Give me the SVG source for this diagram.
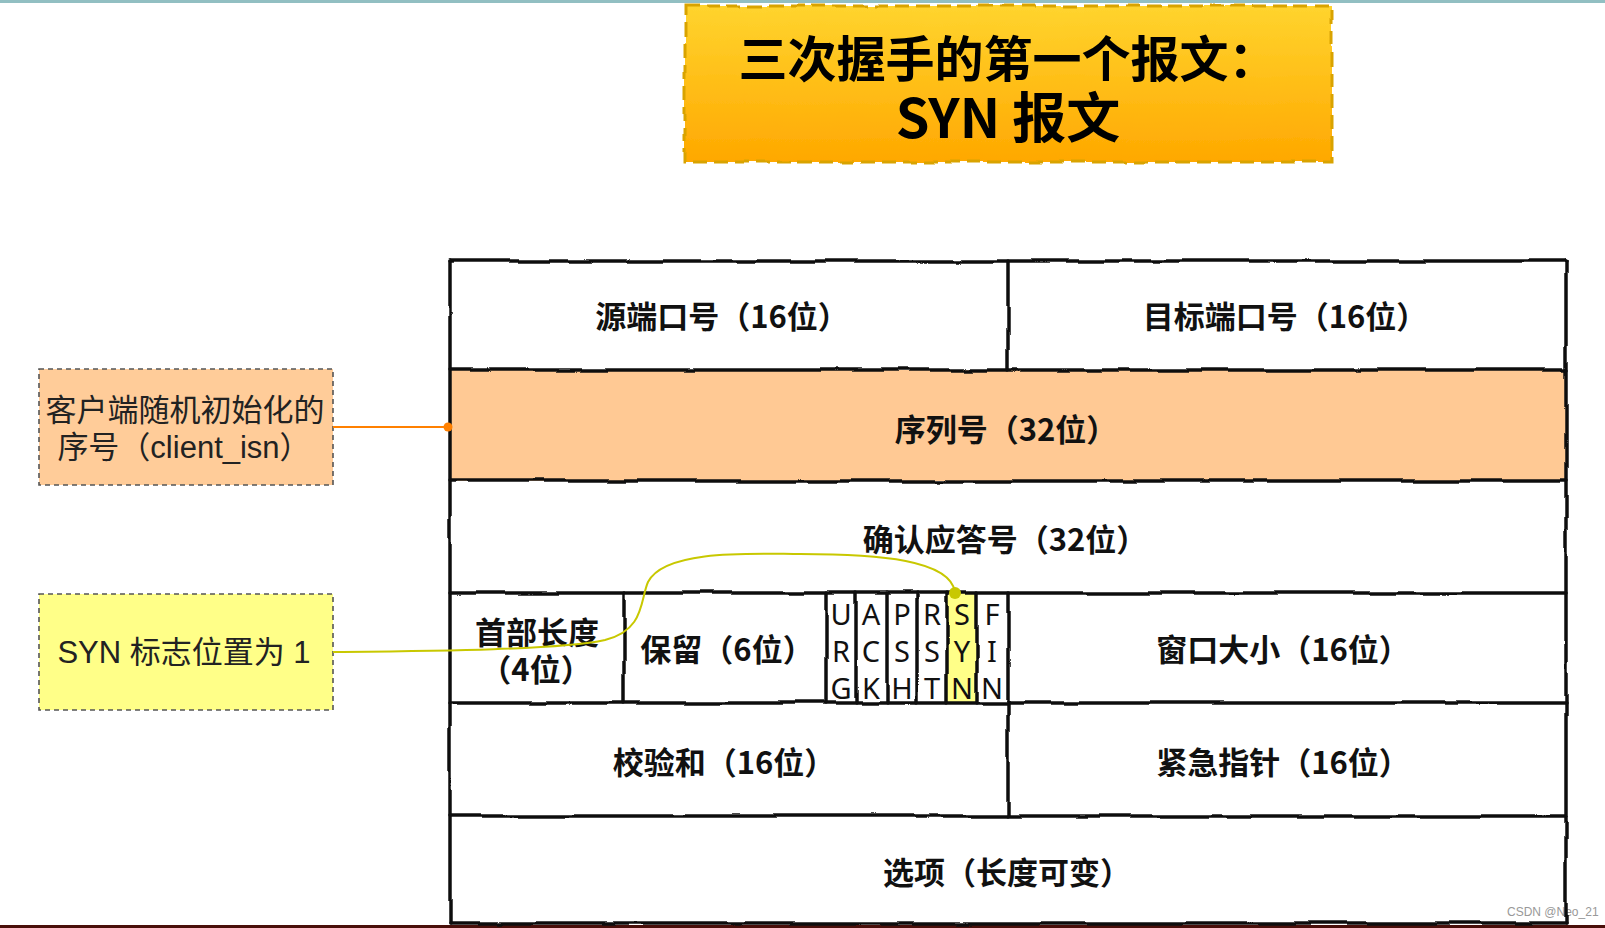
<svg xmlns="http://www.w3.org/2000/svg" width="1605" height="928" viewBox="0 0 1605 928">
<defs>
<linearGradient id="gTitle" x1="0" y1="0" x2="0" y2="1">
<stop offset="0" stop-color="#ffd42e"/>
<stop offset="1" stop-color="#ffa800"/>
</linearGradient>
<filter id="rough" x="-2%" y="-2%" width="104%" height="104%">
<feTurbulence type="fractalNoise" baseFrequency="0.018" numOctaves="2" seed="3" result="n"/>
<feDisplacementMap in="SourceGraphic" in2="n" scale="5" xChannelSelector="R" yChannelSelector="G"/>
</filter>
<style>
.cell{font-family:"Noto Sans CJK SC","Noto Sans",sans-serif;font-weight:bold;font-size:31px;fill:#111;text-anchor:middle}
.flag{font-family:"Noto Sans","DejaVu Sans",sans-serif;font-size:29px;fill:#111;text-anchor:middle}
.note{font-family:"Liberation Sans","Noto Sans CJK SC",sans-serif;font-size:31px;fill:#222;text-anchor:middle}
.title{font-family:"Noto Sans CJK SC",sans-serif;font-weight:bold;font-size:49px;fill:#000;text-anchor:middle}
.grid{stroke:#111;stroke-width:3.5;fill:none;stroke-linecap:round}
.dash{stroke:#555;stroke-width:1.6;stroke-dasharray:5 4}
</style>
</defs>
<rect x="0" y="0" width="1605" height="928" fill="#ffffff"/>
<rect x="0" y="0" width="1605" height="3" fill="#92bfc2"/>
<rect x="0" y="925" width="1605" height="3" fill="#4a0f0a"/>
<text x="1507" y="916" font-family="Liberation Sans,sans-serif" font-size="12" fill="#999">CSDN @Neo_21</text>

<g id="title">
<rect x="685" y="6" width="647" height="156" fill="url(#gTitle)" stroke="#d9a300" stroke-width="3" stroke-dasharray="14 7" filter="url(#rough)"/>
<text class="title" x="1008" y="77">三次握手的第一个报文：</text>
<text class="title" x="1008" y="138" style="font-size:54px">SYN 报文</text>
</g>

<g id="table">
<g id="fills">
<rect x="450" y="370" width="1116" height="111" fill="#ffc994"/>
<rect x="947" y="593" width="30" height="110" fill="#ffff88"/>
</g>
<g id="grid" class="grid" filter="url(#rough)">
<path d="M450,261 H1566 M450,370 H1566 M450,481 H1566 M450,593 H1566 M450,703 H1566 M450,816 H1566 M450,923 H1566"/>
<path d="M450,261 V923 M1566,261 V923"/>
<path d="M1008,261 V370 M1008,593 V816"/>
<path d="M624,593 V703 M826,593 V703 M856,593 V703 M887,593 V703 M917,593 V703 M947,593 V703 M977,593 V703"/>
</g>
<g id="f-src-port"><text class="cell" x="722" y="328">源端口号（16位）</text></g>
<g id="f-dst-port"><text class="cell" x="1285" y="328">目标端口号（16位）</text></g>
<g id="f-seq"><text class="cell" x="1006" y="441">序列号（32位）</text></g>
<g id="f-ack"><text class="cell" x="1005" y="551">确认应答号（32位）</text></g>
<g id="f-hlen"><text class="cell" x="537" y="644">首部长度</text><text class="cell" x="536" y="681">（4位）</text></g>
<g id="f-reserved"><text class="cell" x="727" y="661">保留（6位）</text></g>
<g id="f-flags">
<text class="flag" x="841" y="625">U</text><text class="flag" x="841" y="662">R</text><text class="flag" x="841" y="699">G</text>
<text class="flag" x="871" y="625">A</text><text class="flag" x="871" y="662">C</text><text class="flag" x="871" y="699">K</text>
<text class="flag" x="902" y="625">P</text><text class="flag" x="902" y="662">S</text><text class="flag" x="902" y="699">H</text>
<text class="flag" x="932" y="625">R</text><text class="flag" x="932" y="662">S</text><text class="flag" x="932" y="699">T</text>
<text class="flag" x="962" y="625">S</text><text class="flag" x="962" y="662">Y</text><text class="flag" x="962" y="699">N</text>
<text class="flag" x="992" y="625">F</text><text class="flag" x="992" y="662">I</text><text class="flag" x="992" y="699">N</text>
</g>
<g id="f-window"><text class="cell" x="1283" y="661">窗口大小（16位）</text></g>
<g id="f-checksum"><text class="cell" x="724" y="774">校验和（16位）</text></g>
<g id="f-urgent"><text class="cell" x="1283" y="774">紧急指针（16位）</text></g>
<g id="f-options"><text class="cell" x="1007" y="884">选项（长度可变）</text></g>
</g>

<g id="box-isn">
<rect x="39" y="369" width="294" height="116" fill="#ffcc99" class="dash"/>
<text class="note" x="185" y="421">客户端随机初始化的</text>
<text class="note" x="184" y="458">序号（client_isn）</text>
</g>

<g id="box-syn">
<rect x="39" y="594" width="294" height="116" fill="#ffff88" class="dash"/>
<text class="note" x="184" y="663">SYN 标志位置为 1</text>
</g>

<g id="connectors">
<path d="M333,427 H446" stroke="#ff8000" stroke-width="2" fill="none"/>
<circle cx="448" cy="427" r="4.5" fill="#ff8000"/>
<path d="M333,652 C430,651 560,650 605,640 C645,630 640,600 648,582 C665,548 760,554 800,554 C880,554 950,560 955,592" stroke="#c8c800" stroke-width="2" fill="none"/>
<circle cx="955" cy="593" r="6" fill="#c8c800"/>
</g>
</svg>
